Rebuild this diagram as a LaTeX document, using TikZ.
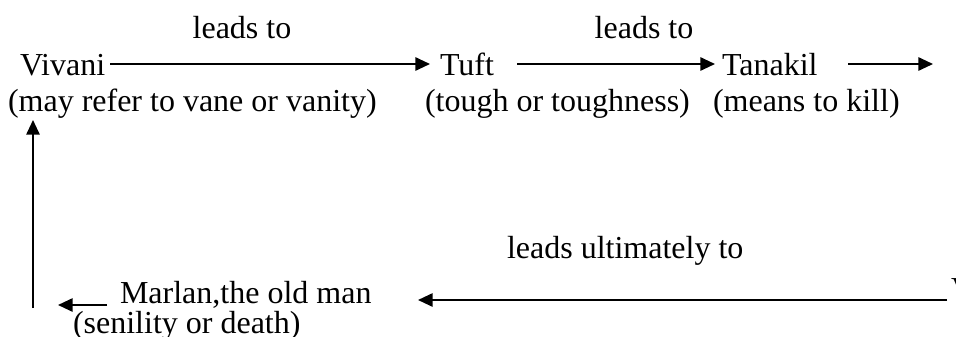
\documentclass[tikz,border=0pt]{standalone}
\usepackage{fontspec}
\setmainfont{Liberation Serif}
\usetikzlibrary{arrows.meta}
\begin{document}
\begin{tikzpicture}[x=0.75pt,y=-0.75pt,
  txt/.style={inner sep=0pt,outer sep=0pt,anchor=base west,font=\fontsize{24}{28}\selectfont},
  lbl/.style={txt,anchor=base},
  arr/.style={line width=1.4pt,-{Triangle[length=11pt,width=10pt]}}]
\useasboundingbox (0,0) rectangle (956,336);
\node[lbl] (l1) at (242,38) {leads to};
\node[lbl] (l2) at (644,38) {leads to};
\node[txt] (viv) at (20,75) {Vivani};
\node[txt] (tuft) at (440,75) {Tuft};
\node[txt] (tan) at (722,75) {Tanakil};
\node[txt] (vivd) at (8,111) {(may refer to vane or vanity)};
\node[txt] (tuftd) at (425,111) {(tough or toughness)};
\node[txt] (tand) at (713,111) {(means to kill)};
\node[txt] (lu) at (507,258) {leads ultimately to};
\node[txt] (mar) at (120,303) {Marlan,the old man};
\node[txt] (mard) at (73,333) {(senility or death)};
\node[txt] (cut) at (951,299) {V};
\coordinate (a1s) at (110,64);
\coordinate (a1e) at (430,64);
\coordinate (a2s) at (517,64);
\coordinate (a2e) at (715,64);
\coordinate (a3s) at (848,64);
\coordinate (a3e) at (933,64);
\coordinate (b1s) at (947,300);
\coordinate (b1e) at (418,300);
\coordinate (b2s) at (107,305);
\coordinate (b2e) at (58,305);
\coordinate (vs) at (33,308);
\coordinate (ve) at (33,120);
\draw[arr] (a1s) -- (a1e);
\draw[arr] (a2s) -- (a2e);
\draw[arr] (a3s) -- (a3e);
\draw[arr] (b1s) -- (b1e);
\draw[arr] (b2s) -- (b2e);
\draw[arr] (vs) -- (ve);
\end{tikzpicture}
\end{document}
